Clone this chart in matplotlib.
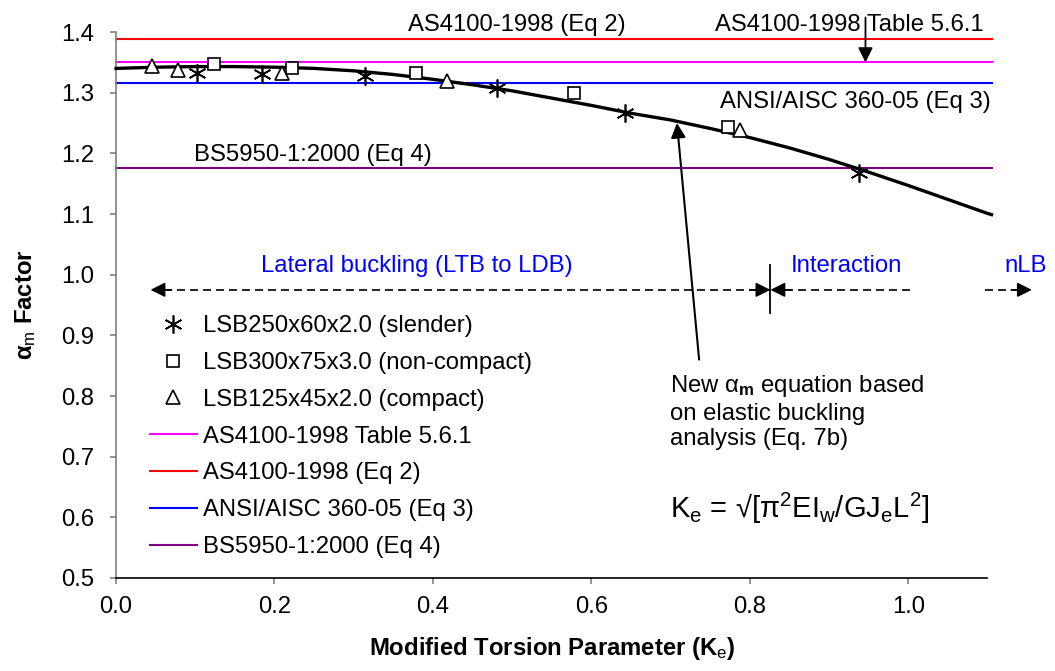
"""
alpha_m factor against modified torsion parameter Ke for LSB sections,
with the code values (AS4100, AISC, BS5950) as horizontal reference lines
and the proposed elastic-buckling curve.
"""
import numpy as np
import matplotlib
matplotlib.use("Agg")
import matplotlib.pyplot as plt

plt.rcParams["font.family"] = ["Liberation Sans", "DejaVu Sans"]
plt.rcParams["mathtext.fontset"] = "custom"
plt.rcParams["mathtext.rm"] = "Liberation Sans"
plt.rcParams["mathtext.bf"] = "Liberation Sans:bold"
plt.rcParams["mathtext.it"] = "Liberation Sans:italic"

# FE results for the three sections
ke_slender = [0.102, 0.184, 0.314, 0.481, 0.643, 0.938]
am_slender = [1.333, 1.331, 1.328, 1.307, 1.266, 1.168]
ke_noncompact = [0.124, 0.222, 0.378, 0.578, 0.773]
am_noncompact = [1.348, 1.341, 1.333, 1.300, 1.244]
ke_compact = [0.046, 0.078, 0.210, 0.418, 0.788]
am_compact = [1.344, 1.338, 1.333, 1.320, 1.238]

# proposed alpha_m equation (Eq. 7b)
ke_curve = [0.00, 0.05, 0.10, 0.15, 0.20, 0.25, 0.30, 0.35, 0.40, 0.45, 0.50,
            0.55, 0.60, 0.65, 0.70, 0.75, 0.80, 0.85, 0.90, 0.95, 1.00, 1.05,
            1.10, 1.105]
am_curve = [1.340, 1.342, 1.343, 1.343, 1.342, 1.340, 1.336, 1.330, 1.322, 1.313,
            1.303, 1.291, 1.279, 1.266, 1.255, 1.241, 1.226, 1.209, 1.190, 1.169,
            1.147, 1.124, 1.101, 1.099]

# code values
code_labels = ["AS4100-1998 Table 5.6.1", "AS4100-1998 (Eq 2)",
               "ANSI/AISC 360-05 (Eq 3)", "BS5950-1:2000 (Eq 4)"]
code_values = [1.35, 1.388, 1.316, 1.176]
code_colors = ["#FF00FF", "#FF0000", "#0000FF", "#800080"]

FS = 17.2
STAR = (6, 2, 0)

fig = plt.figure(figsize=(10.55, 6.71), dpi=100)
ax = fig.add_axes([0.110, 0.1386, 0.826, 0.8137])

code_lines = []
for lab, v, c in zip(code_labels, code_values, code_colors):
    ln = ax.axhline(v, xmax=1.005, color=c, lw=1.5, label=lab, clip_on=False)
    code_lines.append(ln)

ax.plot(ke_curve, am_curve, color="black", lw=2.4, zorder=4, clip_on=False)

h_s, = ax.plot(ke_slender, am_slender, ls="none", marker=STAR, ms=13,
               mec="black", mew=1.2, zorder=5, label="LSB250x60x2.0 (slender)")
h_n, = ax.plot(ke_noncompact, am_noncompact, ls="none", marker="s", ms=9,
               mfc="white", mec="black", mew=1.2, zorder=5,
               label="LSB300x75x3.0 (non-compact)")
h_c, = ax.plot(ke_compact, am_compact, ls="none", marker="^", ms=10,
               mfc="white", mec="black", mew=1.2, zorder=5,
               label="LSB125x45x2.0 (compact)")

ax.set_xlim(0, 1.1)
ax.set_ylim(0.5, 1.4)
ax.set_xticks(np.arange(0, 1.01, 0.2))
ax.set_yticks(np.arange(0.5, 1.41, 0.1))
ax.xaxis.set_major_formatter(matplotlib.ticker.FormatStrFormatter("%.1f"))
ax.yaxis.set_major_formatter(matplotlib.ticker.FormatStrFormatter("%.1f"))
ax.tick_params(direction="out", length=4, width=1.2, color="#808080",
               labelsize=FS)
ax.tick_params(axis="y", pad=12)
ax.tick_params(axis="x", pad=9)
for s in ("top", "right"):
    ax.spines[s].set_visible(False)
ax.spines["left"].set_color("#808080")
ax.spines["left"].set_linewidth(1.2)
ax.spines["bottom"].set_color("black")
ax.spines["bottom"].set_linewidth(1.2)

ax.set_xlabel("Modified Torsion Parameter (K$_\\mathrm{e}$)", fontsize=FS,
              fontweight="bold", labelpad=12)
ax.set_ylabel("α$_\\mathrm{m}$ Factor", fontsize=FS, fontweight="bold",
              labelpad=16)

leg = ax.legend(handles=[h_s, h_n, h_c] + code_lines, frameon=False,
                fontsize=FS, loc="upper left", bbox_to_anchor=(0.028, 0.499),
                handlelength=1.95, handletextpad=0.25, labelspacing=0.62,
                borderaxespad=0)

# labels of the code lines
ax.text(0.369, 1.411, "AS4100-1998 (Eq 2)", fontsize=FS, va="center")
ax.text(0.756, 1.411, "AS4100-1998 Table 5.6.1", fontsize=FS, va="center")
ax.text(0.762, 1.284, "ANSI/AISC 360-05 (Eq 3)", fontsize=FS, va="center")
ax.text(0.098, 1.198, "BS5950-1:2000 (Eq 4)", fontsize=FS, va="center")
ax.annotate("", xy=(0.946, 1.35), xytext=(0.946, 1.424),
            arrowprops=dict(arrowstyle="-|>", color="black", lw=1.3,
                            mutation_scale=22, shrinkA=0, shrinkB=0),
            annotation_clip=False)

# buckling regions along Ke
y_reg = 0.975
dash = dict(color="black", lw=1.2, dashes=(4.8, 3.0), clip_on=False)
head = dict(arrowstyle="-|>", color="black", lw=1.2, mutation_scale=22,
            shrinkA=0, shrinkB=0)
ax.plot([0.06, 0.81], [y_reg, y_reg], **dash)
ax.plot([0.845, 1.009], [y_reg, y_reg], **dash)
ax.plot([1.097, 1.14], [y_reg, y_reg], **dash)
for tip, tail in [(0.0435, 0.07), (0.826, 0.80), (0.826, 0.852), (1.156, 1.13)]:
    ax.annotate("", xy=(tip, y_reg), xytext=(tail, y_reg), arrowprops=head,
                annotation_clip=False)
ax.plot([0.826, 0.826], [0.936, 1.016], color="black", lw=1.3)
ax.text(0.183, 1.015, "Lateral buckling (LTB to LDB)", color="#0000FF",
        fontsize=FS, va="center")
ax.text(0.852, 1.014, "Interaction", color="#0000FF", fontsize=FS, va="center")
ax.text(1.122, 1.014, "nLB", color="#0000FF", fontsize=FS, va="center",
        clip_on=False)

# pointer to the proposed curve
ax.annotate("", xy=(0.708, 1.250), xytext=(0.736, 0.860),
            arrowprops=dict(arrowstyle="-|>", color="black", lw=1.5,
                            mutation_scale=22, shrinkA=0, shrinkB=0))
ax.text(0.699, 0.838,
        "New α$_\\mathbf{m}$ equation based\non elastic buckling\nanalysis (Eq. 7b)",
        fontsize=FS, va="top", linespacing=1.22)
ax.text(0.699, 0.614,
        "K$_\\mathrm{e}$ = √[π$^2$EI$_\\mathrm{w}$/GJ$_\\mathrm{e}$L$^2$]",
        fontsize=21, va="center")

fig.savefig("out.png", dpi=100)
